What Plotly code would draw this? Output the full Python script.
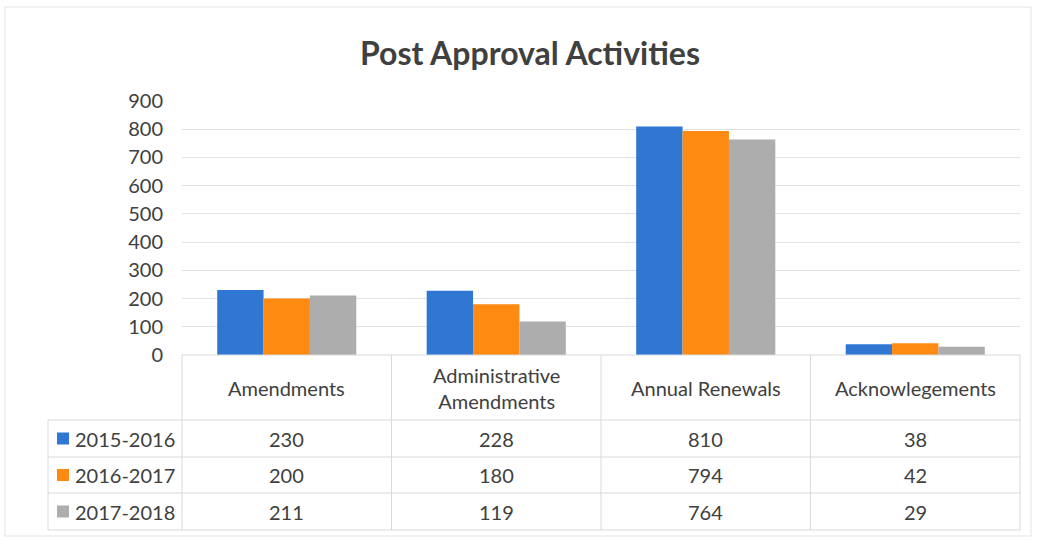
import plotly.graph_objects as go

categories = ["Amendments", "Administrative<br>Amendments", "Annual Renewals", "Acknowlegements"]
series_names = ["2015-2016", "2016-2017", "2017-2018"]
v_2015 = [230, 228, 810, 38]
v_2016 = [200, 180, 794, 42]
v_2017 = [211, 119, 764, 29]
series_values = [v_2015, v_2016, v_2017]
colors = ["#2f77d3", "#ff8a12", "#adadad"]
y_ticks = [0, 100, 200, 300, 400, 500, 600, 700, 800, 900]

W, H = 1037, 540
FONT = "Lato"
TXT = "#404040"
LINE = "#d9d9d9"

def px(x):
    return x / W

def py(y):
    return 1 - y / H

plot_l, plot_r, plot_t, plot_b = 182, 1020, 101, 355
legend_l = 48
row_lines = [420, 457, 493, 530]

fig = go.Figure()
for name, vals, c in zip(series_names, series_values, colors):
    fig.add_trace(go.Bar(x=categories, y=vals, name=name, marker=dict(color=c, line=dict(width=0)),
                         showlegend=False))

shapes = []
annotations = []
shapes.append(dict(type="rect", xref="paper", yref="paper", x0=px(5), x1=px(1031), y0=py(536), y1=py(7),
                   line=dict(color="#e3e3e3", width=1)))
ncat = len(categories)
colw = (plot_r - plot_l) / ncat
for i in range(ncat + 1):
    x = plot_l + i * colw
    shapes.append(dict(type="line", xref="paper", yref="paper", x0=px(x), x1=px(x), y0=py(plot_b), y1=py(row_lines[-1]),
                       line=dict(color=LINE, width=1)))
shapes.append(dict(type="line", xref="paper", yref="paper", x0=px(legend_l), x1=px(legend_l), y0=py(row_lines[0]), y1=py(row_lines[-1]),
                   line=dict(color=LINE, width=1)))
for y in row_lines:
    shapes.append(dict(type="line", xref="paper", yref="paper", x0=px(legend_l), x1=px(plot_r), y0=py(y), y1=py(y),
                       line=dict(color=LINE, width=1)))
shapes.append(dict(type="line", xref="paper", yref="paper", x0=px(plot_l), x1=px(plot_r), y0=py(plot_b), y1=py(plot_b),
                   line=dict(color=LINE, width=1)))

for i, cat in enumerate(categories):
    cx = plot_l + (i + 0.5) * colw
    annotations.append(dict(text=cat, xref="paper", yref="paper", x=px(cx), y=py((plot_b + row_lines[0]) / 2),
                            showarrow=False, xanchor="center", yanchor="middle",
                            font=dict(family=FONT, size=20, color=TXT)))
for r, (name, vals, c) in enumerate(zip(series_names, series_values, colors)):
    cy = (row_lines[r] + row_lines[r + 1]) / 2
    shapes.append(dict(type="rect", xref="paper", yref="paper", x0=px(57), x1=px(69), y0=py(cy + 6), y1=py(cy - 6),
                       fillcolor=c, line=dict(width=0)))
    annotations.append(dict(text=name, xref="paper", yref="paper", x=px(73), y=py(cy),
                            showarrow=False, xanchor="left", yanchor="middle",
                            font=dict(family=FONT, size=20, color=TXT)))
    for i, v in enumerate(vals):
        cx = plot_l + (i + 0.5) * colw
        annotations.append(dict(text=str(v), xref="paper", yref="paper", x=px(cx), y=py(cy),
                                showarrow=False, xanchor="center", yanchor="middle",
                                font=dict(family=FONT, size=20, color=TXT)))

annotations.append(dict(text="<b>Post Approval Activities</b>", xref="paper", yref="paper", x=px(530), y=py(52),
                        showarrow=False, xanchor="center", yanchor="middle",
                        font=dict(family=FONT, size=32, color=TXT)))

fig.update_layout(
    width=W, height=H,
    margin=dict(l=0, r=0, t=0, b=0, pad=0, autoexpand=False),
    paper_bgcolor="white", plot_bgcolor="white",
    barmode="group", bargap=0.336, bargroupgap=0,
    xaxis=dict(domain=[px(plot_l), px(plot_r)], showticklabels=False, showgrid=False, zeroline=False,
               showline=False, ticks="", automargin=False),
    yaxis=dict(domain=[py(plot_b), py(plot_t)], range=[0, 900], tickvals=y_ticks, automargin=False,
               showgrid=True, gridcolor="#e2e2e2", gridwidth=1, zeroline=False, showline=False,
               tickfont=dict(family=FONT, size=20, color=TXT), ticklabelstandoff=18),
    shapes=shapes, annotations=annotations,
    font=dict(family=FONT),
)

fig.write_html("out.html", config={"displayModeBar": False},
               post_script="document.body.style.margin='0';document.body.style.overflow='hidden';")
